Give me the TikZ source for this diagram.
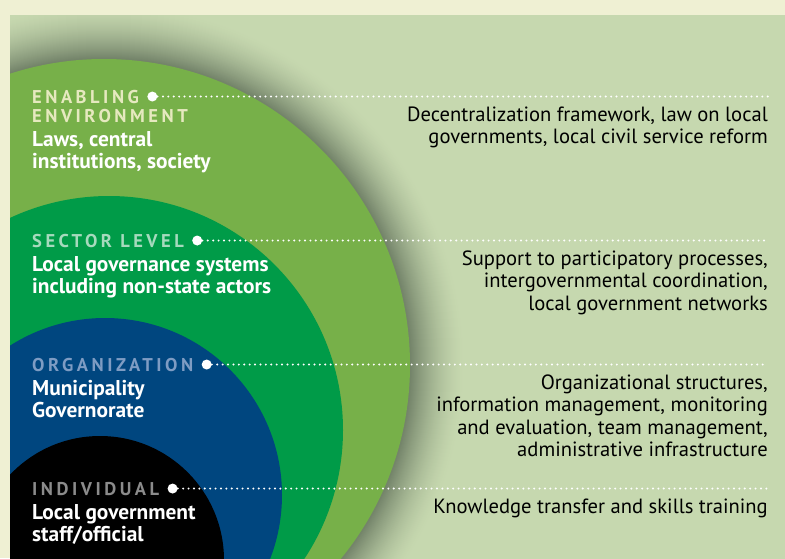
\documentclass[tikz,border=0pt]{standalone}
\usepackage{fontspec}
\setmainfont{PT Sans}
\newfontfamily\capsfont[LetterSpace=19,UprightFont=*-Bold]{PT Sans}
\usetikzlibrary{positioning}

\definecolor{cream}{HTML}{EFF0D3}
\definecolor{panel}{HTML}{C6D8AF}
\definecolor{glow}{HTML}{74846A}
\definecolor{envgreen}{HTML}{77B049}
\definecolor{secgreen}{HTML}{009B48}
\definecolor{orgblue}{HTML}{00467F}
\definecolor{envcap}{HTML}{E6E9BF}
\definecolor{seccap}{HTML}{A6DABD}
\definecolor{orgcap}{HTML}{7E9CC3}
\definecolor{indcap}{HTML}{8B8B8B}

\tikzset{
  levelcap/.style={font=\capsfont\fontsize{18.5}{19}\selectfont, inner sep=0pt, anchor=base west},
  body/.style={font=\fontsize{21.4}{22}\selectfont\bfseries, text=white, align=left, inner sep=0pt},
  desc/.style={font=\fontsize{20.6}{22.3}\selectfont, align=right, inner sep=0pt},
  dot/.style={circle, fill=white, inner sep=0pt, minimum size=10pt},
  dotline/.style={white, line width=2.2pt, line cap=round, dash pattern=on 0pt off 5.4pt}
}

\begin{document}
\begin{tikzpicture}[x=1pt,y=-1pt]
                \useasboundingbox (0,0) rectangle (785,558);
                \fill[cream] (0,0) rectangle (785,558);
                \begin{scope}
                    \clip (10,15) rectangle (790,562);
                    \fill[panel] (10,15) rectangle (790,562);
                    \foreach \k in {0,...,54}{
                        \pgfmathsetmacro\p{100*(\k/54)^1.6}
                        \fill[glow!\p!panel] (104,365) circle[radius=361-\k];
                    }
                    \fill[envgreen] (104,365) circle[radius=306];
                    \fill[secgreen] (109,430) circle[radius=234];
                    \fill[orgblue] (105,495) circle[radius=177];
                    \fill[black] (100,560) circle[radius=124];
                \end{scope}
                \coordinate (rim) at (768,0);

                \node[levelcap, text=envcap] (env1) at (32,103) {ENABLING};
                \node[levelcap, text=envcap] (env2) at (32,122) {ENVIRONMENT};
                \node[body, below right=9pt and 0pt of env2.south west] (envb) {Laws, central\\institutions, society};
                \node[dot, right=8pt of env1] (denv) {};

                \node[levelcap, text=seccap] (sec) at (32,247) {SECTOR LEVEL};
                \node[body, below right=9pt and 0pt of sec.south west] (secb) {Local governance systems\\including non-state actors};
                \node[dot, right=8pt of sec] (dsec) {};

                \node[levelcap, text=orgcap] (org) at (32,371) {ORGANIZATION};
                \node[body, below right=9pt and 0pt of org.south west] (orgb) {Municipality\\Governorate};
                \node[dot, right=8pt of org] (dorg) {};

                \node[levelcap, text=indcap] (ind) at (32,495) {INDIVIDUAL};
                \node[body, below right=9pt and 0pt of ind.south west] (indb) {Local government\\staff/official};
                \node[dot, right=8pt of ind] (dind) {};

                \coordinate (eenv) at (denv -| rim);
                \coordinate (esec) at (dsec -| rim);
                \coordinate (eorg) at (dorg -| rim);
                \coordinate (eind) at (dind -| rim);
                \draw[dotline] (denv) -- (eenv);
                \draw[dotline] (dsec) -- (esec);
                \draw[dotline] (dorg) -- (eorg);
                \draw[dotline] (dind) -- (eind);

                \node[desc, below left=10pt and 0pt of eenv] (tenv) {Decentralization framework, law on local\\governments, local civil service reform};
                \node[desc, below left=10pt and 0pt of esec] (tsec) {Support to participatory processes,\\intergovernmental coordination,\\local government networks};
                \node[desc, below left=10pt and 0pt of eorg] (torg) {Organizational structures,\\information management, monitoring\\and evaluation, team management,\\administrative infrastructure};
                \node[desc, below left=10pt and 0pt of eind] (tind) {Knowledge transfer and skills training};
            \end{tikzpicture}
\end{document}
